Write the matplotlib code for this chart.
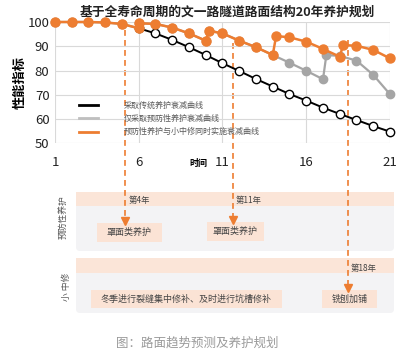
import matplotlib
matplotlib.use('Agg')
import matplotlib.pyplot as plt
from matplotlib.lines import Line2D
from matplotlib.patches import FancyBboxPatch, Rectangle

plt.rcParams['font.family'] = ['Noto Sans CJK SC', 'DejaVu Sans']

# data
years = [1, 2, 3, 4, 5, 6, 6, 7, 8, 9, 10, 10.2, 11, 12, 13, 14, 14.2, 15, 16, 17, 18, 18.2, 19, 20, 21]
both_vals = [100, 100, 100, 99.8, 99.2, 97.4, 99.5, 99.2, 97.7, 95.3, 92.3, 96.4, 95.3, 92.3, 89.6, 86.4,
             94.2, 93.7, 91.9, 88.9, 85.7, 90.5, 90.2, 88.5, 85.0]

prev_years = [1, 2, 3, 4, 5, 6, 6, 7, 8, 9, 10, 10.2, 11, 12, 13, 14, 15, 16, 17, 17.2, 18, 19, 20, 21]
prev_vals = [100, 100, 100, 99.8, 99.2, 97.4, 99.5, 99.2, 97.7, 95.3, 92.3, 96.4, 95.3, 92.3, 89.6, 86.4,
             83.2, 79.9, 76.4, 86.4, 86.0, 84.1, 78.2, 70.2]

trad_years = [6, 7, 8, 9, 10, 11, 12, 13, 14, 15, 16, 17, 18, 19, 20, 21]
trad_vals = [97.4, 95.3, 92.6, 89.6, 86.4, 83.0, 79.8, 76.5, 73.4, 70.3, 67.6, 64.7, 62.1, 59.6, 57.1, 54.8]

labels = ['采取传统养护衰减曲线', '仅采取预防性养护衰减曲线', '预防性养护与小中修同时实施衰减曲线']

# maintenance events: where the dashed line sits on the time axis, where it starts
event_x = [5.2, 11.6, 18.5]
event_start = [96.5, 91.5, 92.5]
event_labels = ['第4年', '第11年', '第18年']

ORANGE = '#ED7D31'
GRAY = '#A5A5A5'
W, H = 406, 356

fig = plt.figure(figsize=(W / 100, H / 100), dpi=100)

# overlay in pixel coords for the lower diagram
ov = fig.add_axes([0, 0, 1, 1])
ov.set_xlim(0, W)
ov.set_ylim(H, 0)
ov.axis('off')

ax = fig.add_axes([55 / W, 1 - 143.3 / H, 335 / W, 121.3 / H])
ax.set_xlim(1, 21)
ax.set_ylim(50, 100)
ax.set_xticks([1, 6, 11, 16, 21])
ax.set_yticks([50, 60, 70, 80, 90, 100])
ax.grid(True, color='#D9D9D9', lw=0.8)
ax.set_axisbelow(True)
for s in ax.spines.values():
    s.set_visible(False)
ax.tick_params(length=0, labelsize=9.5, colors='#222222')
ax.tick_params(axis='x', pad=9)
ax.tick_params(axis='y', pad=4)
ax.patch.set_alpha(0)

ax.plot(trad_years, trad_vals, color='black', lw=1.4, marker='o', ms=6,
        mfc='white', mec='black', mew=1.0, clip_on=False, zorder=3)
ax.plot(prev_years, prev_vals, color=GRAY, lw=1.6, marker='o', ms=6,
        mfc=GRAY, mec=GRAY, clip_on=False, zorder=4)
ax.plot(years, both_vals, color=ORANGE, lw=1.8, marker='o', ms=6.5,
        mfc=ORANGE, mec=ORANGE, clip_on=False, zorder=5)

ax.set_ylabel('性能指标', fontsize=9.5, fontweight='bold')
ax.yaxis.set_label_coords(-0.085, 0.5)
ax.text(198, 163, '时间', transform=ov.transData, fontsize=6.5, fontweight='bold',
        ha='center', va='center')

handles = [Line2D([], [], color=c, lw=2) for c in ['black', '#BFBFBF', ORANGE]]
leg = ax.legend(handles, labels, loc='upper left', frameon=False, fontsize=5.8,
                bbox_to_anchor=(79 / W, 1 - 100.5 / H), bbox_transform=fig.transFigure,
                borderpad=0, borderaxespad=0, handlelength=2.3, handletextpad=3.2,
                labelspacing=0.55)
for t in leg.get_texts():
    t.set_color('#595959')

fig.text(227 / W, 1 - 12 / H, '基于全寿命周期的文一路隧道路面结构20年养护规划',
         fontsize=9.2, fontweight='bold', ha='center', va='center', color='#222222')

# lower diagram panels
def rbox(x0, y0, x1, y1, fc, r=4):
    ov.add_patch(FancyBboxPatch((x0, y0), x1 - x0, y1 - y0,
                                boxstyle='round,pad=0,rounding_size=%g' % r,
                                fc=fc, ec='none', zorder=1))

rbox(76, 192, 394, 251, '#F3F3F5')
ov.add_patch(Rectangle((76, 192), 318, 14, fc='#FBE5D8', ec='none', zorder=1.5))
rbox(76, 258, 394, 313, '#F3F3F5')
ov.add_patch(Rectangle((76, 258), 318, 15, fc='#FBE5D8', ec='none', zorder=1.5))

ov.text(63, 217, '预防性养护', rotation=90, fontsize=6.3, ha='center', va='center', color='#555555')
ov.text(67, 287, '小 中修', rotation=90, fontsize=6.3, ha='center', va='center', color='#555555')

boxes = [(97, 223, 162, 242, '罩面类养护'),
         (207, 222, 264, 241, '罩面类养护'),
         (91, 290, 282, 308, '冬季进行裂缝集中修补、及时进行坑槽修补'),
         (322, 290, 377, 308, '铣刨加铺')]
for x0, y0, x1, y1, txt in boxes:
    ov.add_patch(Rectangle((x0, y0), x1 - x0, y1 - y0, fc='#FBE3D5', ec='none', zorder=2))
    ov.text((x0 + x1) / 2, (y0 + y1) / 2, txt, fontsize=6.5, ha='center', va='center',
            color='#444444', zorder=3)

# dashed event arrows from the chart into the diagram
arrow_end = [221, 220, 288]
label_y = [201, 201, 268]
for ex, ey, yend, lab, ly in zip(event_x, event_start, arrow_end, event_labels, label_y):
    px, py = ax.transData.transform((ex, ey))
    ytop = H - py
    ov.plot([px, px], [ytop, yend - 4], color=ORANGE, lw=1.2, ls=(0, (3.5, 2.5)), zorder=4)
    ov.plot([px], [yend], marker='v', ms=6, color=ORANGE, mec=ORANGE, zorder=4)
    ov.text(px + 3, ly, lab, fontsize=6, ha='left', va='center', color='#444444', zorder=4)

fig.text(197 / W, 1 - 343 / H, '图：路面趋势预测及养护规划', fontsize=9, ha='center',
         va='center', color='#9A9A9A')

fig.savefig('out.png', dpi=100)
